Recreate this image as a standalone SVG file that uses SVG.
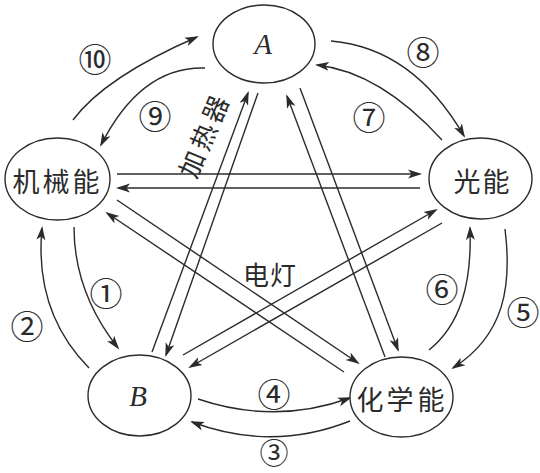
<svg xmlns="http://www.w3.org/2000/svg" width="540" height="473" viewBox="0 0 540 473">
<style>
.n{fill:#fff;stroke:#2b2b2b;stroke-width:1.4}
.c{fill:none;stroke:#2b2b2b;stroke-width:1.4;marker-end:url(#ah)}
.t{font-family:"Noto Sans CJK SC","Noto Sans CJK JP",sans-serif;font-size:27px;fill:#2b2b2b;text-anchor:middle;dominant-baseline:central}
.v{font-family:"Liberation Serif",serif;font-style:italic;font-size:29px;fill:#2b2b2b;text-anchor:middle;dominant-baseline:central}
.l{font-family:"Noto Sans CJK SC","DejaVu Sans",sans-serif;font-size:33px;fill:#2b2b2b;text-anchor:middle;dominant-baseline:central}
.s{font-family:"Noto Sans CJK SC","Noto Sans CJK JP",sans-serif;font-size:26px;fill:#2b2b2b;text-anchor:middle;dominant-baseline:central}
</style>
<defs>
<marker id="ah" viewBox="0 0 14 10" refX="12" refY="5" markerWidth="14" markerHeight="10" markerUnits="userSpaceOnUse" orient="auto">
<path d="M0,0.5 L14,5 L0,9.5 L3.5,5 z" fill="#2b2b2b"/>
</marker>
</defs>
<rect width="540" height="473" fill="#fff"/>
<g id="connectors">
<path class="c" d="M73,120 Q105,77 197,37"/>
<path class="c" d="M205,68 Q141,66 101,145"/>
<path class="c" d="M331,41 Q413,48 464,136"/>
<path class="c" d="M442,140 Q380,72 317,65"/>
<path class="c" d="M74,227 Q74,292 118,348"/>
<path class="c" d="M89,368 Q34,312 42,228"/>
<path class="c" d="M429,350 C460,325 472,285 470,228"/>
<path class="c" d="M505,229 C512,285 505,335 453,368"/>
<path class="c" d="M198,399 Q275,425 350,398"/>
<path class="c" d="M350,421 Q272,452 192,422"/>
<path class="c" d="M117,174 L420,174"/>
<path class="c" d="M420,188 L118,188"/>
<path class="c" d="M152,352 L248,93"/>
<path class="c" d="M258,93 L166,355"/>
<path class="c" d="M385,357 L287,96"/>
<path class="c" d="M300,88 L398,350"/>
<path class="c" d="M117,200 L358,363"/>
<path class="c" d="M344,372 L107,213"/>
<path class="c" d="M183,355 L436,210"/>
<path class="c" d="M442,223 L190,367"/>
</g>
<g id="node-A"><ellipse class="n" cx="264" cy="44" rx="51" ry="39"/><text class="v" x="263" y="44">A</text></g>
<g id="node-jixieneng"><ellipse class="n" cx="57.5" cy="179" rx="52.5" ry="41"/><text class="t" x="26 56 86" y="180">机械能</text></g>
<g id="node-guangneng"><ellipse class="n" cx="480.5" cy="178.5" rx="51.5" ry="40.5"/><text class="t" x="467 496" y="180">光能</text></g>
<g id="node-B"><ellipse class="n" cx="139.5" cy="395.5" rx="51.5" ry="40.5"/><text class="v" x="138" y="396">B</text></g>
<g id="node-huaxueneng"><ellipse class="n" cx="401.5" cy="397" rx="51.5" ry="40"/><text class="t" x="370 400 431" y="398">化学能</text></g>
<g id="labels">
<text class="l" x="95" y="58">⑩</text>
<text class="l" x="155" y="115">⑨</text>
<text class="l" x="423" y="51">⑧</text>
<text class="l" x="369" y="116">⑦</text>
<text class="l" x="442" y="288">⑥</text>
<text class="l" x="523" y="311">⑤</text>
<text class="l" x="106" y="292">①</text>
<text class="l" x="27" y="325">②</text>
<text class="l" x="274" y="393">④</text>
<text class="l" x="274" y="451" style="font-size:29px">③</text>
<text class="s" transform="translate(202,136) rotate(-67)" x="-30 0 30" y="0">加热器</text>
<text class="s" x="256 283" y="273">电灯</text>
</g>
</svg>
